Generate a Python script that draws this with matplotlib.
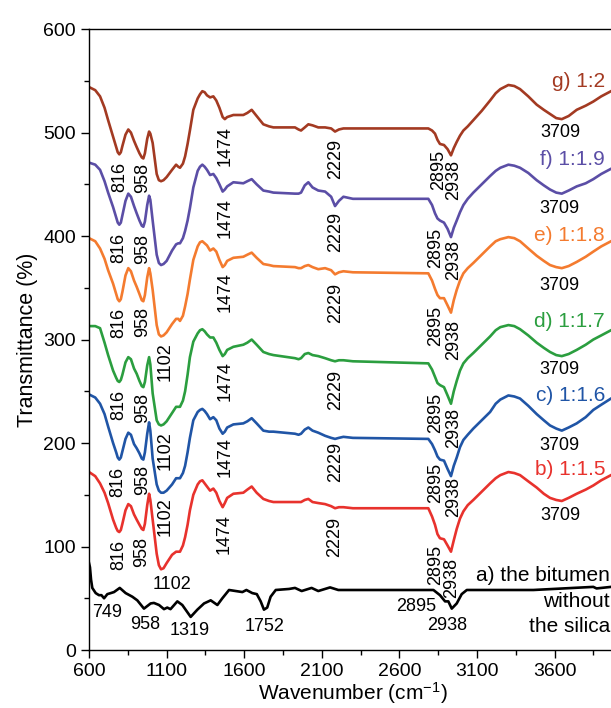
import numpy as np
import matplotlib
matplotlib.use("Agg")
import matplotlib.pyplot as plt

plt.rcParams['font.family'] = ['Liberation Sans', 'DejaVu Sans']
plt.rcParams['mathtext.default'] = 'regular'

# wavenumber grid shared by the silica-modified spectra (b..g)
wn = [600, 640, 671, 700, 723, 755, 775, 785, 795, 805, 815, 835, 853, 870, 890,
      907, 925, 940, 950, 960, 975, 987, 995, 1010, 1036, 1050, 1064, 1080, 1100,
      1135, 1161, 1175, 1186, 1205, 1219, 1235, 1250, 1272, 1300, 1315, 1330,
      1345, 1360, 1380, 1401, 1420, 1440, 1461, 1475, 1490, 1530, 1594, 1620,
      1648, 1680, 1723, 1760, 1788, 1927, 1950, 1966, 1990, 2013, 2040, 2077,
      2121, 2160, 2185, 2210, 2239, 2300, 2786, 2810, 2829, 2845, 2861, 2887,
      2910, 2932, 2950, 2969, 2990, 3012, 3040, 3076, 3130, 3184, 3220, 3250,
      3302, 3340, 3377, 3430, 3484, 3530, 3570, 3610, 3646, 3690, 3742, 3800,
      3849, 3900, 3963, 4000]

g_vals = [544, 541, 535, 524, 512, 496, 486, 481, 479, 481, 487, 498, 503, 500, 492,
          486, 480, 476, 475, 480, 494, 501, 499, 490, 460, 454, 453, 454, 457,
          464, 469, 467, 466, 470, 477, 489, 502, 522, 533, 537, 540,
          539, 536, 534, 535, 531, 524, 515, 513, 515, 517, 517, 519,
          522, 516, 508, 506, 505, 505, 503, 502, 505, 508, 507, 505,
          505, 504, 501, 503, 504, 504, 504, 502, 499, 493, 489, 488,
          484, 478, 485, 491, 497, 502, 506, 512, 521, 531, 538, 542,
          546, 545, 542, 535, 527, 522, 518, 514, 513, 516, 522, 526,
          530, 535, 540, 543]
f_vals = [471, 469, 464, 453, 442, 428, 418, 413, 411, 413, 420, 434, 441, 438, 429,
          422, 415, 410, 409, 414, 430, 439, 435, 415, 382, 374, 372, 373, 376,
          386, 392, 393, 393, 398, 405, 415, 427, 447, 463, 467, 469,
          467, 464, 459, 460, 456, 450, 443, 445, 448, 452, 451, 453,
          455, 450, 444, 443, 442, 441, 441, 442, 449, 452, 447, 444,
          443, 438, 429, 434, 438, 436, 436, 430, 422, 417, 415, 413,
          407, 399, 408, 415, 423, 430, 436, 442, 450, 458, 463, 466,
          469, 468, 466, 461, 454, 449, 445, 442, 441, 444, 448, 451,
          455, 460, 465, 468]
e_vals = [398, 395, 388, 378, 367, 354, 344, 339, 337, 339, 346, 362, 369, 366, 357,
          351, 344, 338, 337, 343, 360, 369, 364, 348, 314, 305, 303, 304, 307,
          315, 320, 320, 318, 323, 332, 344, 358, 377, 390, 394, 395,
          393, 391, 386, 388, 385, 377, 370, 372, 376, 379, 380, 382,
          384, 379, 373, 372, 371, 370, 369, 369, 371, 372, 370, 368,
          369, 367, 363, 365, 366, 365, 364, 357, 349, 343, 340, 340,
          333, 326, 338, 348, 357, 364, 369, 374, 382, 390, 395, 397,
          399, 398, 395, 388, 381, 376, 372, 370, 369, 371, 375, 380,
          385, 390, 395, 398]
d_vals = [313, 313, 311, 297, 285, 270, 263, 260, 259, 261, 266, 278, 283, 281, 272,
          267, 260, 255, 254, 259, 275, 283, 276, 248, 222, 218, 217, 218, 221,
          229, 235, 235, 235, 241, 250, 266, 283, 298, 306, 309, 310,
          308, 305, 302, 302, 297, 290, 284, 286, 290, 293, 295, 297,
          300, 295, 288, 286, 285, 282, 281, 282, 286, 287, 285, 284,
          282, 280, 279, 280, 280, 279, 277, 271, 264, 258, 256, 254,
          246, 238, 250, 260, 270, 277, 282, 287, 295, 303, 309, 312,
          314, 313, 310, 304, 297, 292, 288, 285, 284, 286, 290, 295,
          300, 304, 309, 312]
c_vals = [247, 244, 238, 228, 216, 200, 191, 186, 184, 186, 192, 204, 210, 208, 199,
          195, 190, 185, 184, 191, 209, 220, 212, 185, 160, 154, 152, 152, 154,
          160, 166, 166, 166, 171, 178, 191, 205, 222, 230, 232, 233,
          231, 228, 223, 225, 222, 214, 209, 211, 215, 218, 219, 221,
          224, 219, 212, 211, 211, 209, 208, 209, 213, 215, 212, 210,
          207, 205, 204, 205, 206, 205, 204, 199, 193, 187, 184, 183,
          175, 168, 178, 186, 196, 203, 208, 214, 222, 230, 238, 242,
          246, 245, 243, 236, 228, 222, 217, 214, 212, 215, 219, 225,
          232, 237, 243, 246]
b_vals = [172, 168, 161, 152, 142, 126, 118, 115, 114, 116, 122, 135, 141, 139, 131,
          126, 121, 117, 116, 122, 140, 151, 145, 126, 93, 82, 78, 79, 84,
          92, 95, 95, 95, 101, 109, 121, 135, 150, 160, 163, 164,
          161, 158, 154, 156, 152, 144, 138, 142, 147, 151, 152, 155,
          158, 152, 146, 144, 143, 143, 143, 143, 145, 146, 143, 142,
          141, 139, 137, 138, 138, 137, 137, 129, 121, 112, 108, 107,
          101, 95, 106, 117, 127, 134, 140, 145, 153, 161, 166, 169,
          172, 171, 169, 163, 157, 151, 147, 145, 144, 147, 151, 155,
          159, 164, 169, 172]

# a) plain bitumen
wn_a = [600, 606, 613, 621, 643, 664, 680, 697, 718, 740, 761, 798, 836, 879,
        911, 954, 997, 1018, 1051, 1083, 1104, 1125, 1169, 1201, 1255, 1298,
        1341, 1384, 1427, 1459, 1502, 1545, 1588, 1614, 1652, 1681, 1706, 1727,
        1748, 1770, 1803, 1889, 1927, 1970, 2034, 2077, 2153, 2206, 2250, 2819,
        2861, 2894, 2915, 2937, 2969, 3001, 3034, 3463, 3849, 3870, 3963, 4000]
a_vals = [84, 80, 68, 60, 55, 53, 53, 50, 54, 55, 56, 60, 55, 51.5,
          48, 40, 45, 45.5, 43.5, 39.5, 41, 39.5, 47, 43.5, 32, 39,
          45, 48, 43.5, 50, 58, 57, 56, 58, 55, 54, 47, 39,
          41, 51.5, 58, 59, 60, 57, 60, 57, 60.5, 58, 58, 58,
          53, 47, 47, 40, 45, 54, 58, 58, 61, 59.5, 61, 61]

series = [
    ('g) 1:2', g_vals, '#a33a22'),
    ('f) 1:1.9', f_vals, '#5b4ea6'),
    ('e) 1:1.8', e_vals, '#f47b2f'),
    ('d) 1:1.7', d_vals, '#2b9e3f'),
    ('c) 1:1.6', c_vals, '#2055a6'),
    ('b) 1:1.5', b_vals, '#e8322d'),
]
name_y = [549, 474, 401, 317, 246, 174]

# peak labels: text, x, y, rotation
peaks = {
    'g) 1:2': [('816', 797, 457, 90), ('958', 948, 456, 90), ('1474', 1476, 487, 90),
               ('2229', 2188, 475, 90), ('2895', 2852, 464, 90), ('2938', 2952, 454, 90),
               ('3709', 3635, 500, 0)],
    'f) 1:1.9': [('816', 793, 389, 90), ('958', 948, 388, 90), ('1474', 1476, 417, 90),
                 ('2229', 2188, 404, 90), ('2895', 2836, 389, 90), ('2938', 2952, 377, 90),
                 ('3709', 3628, 427, 0)],
    'e) 1:1.8': [('816', 793, 316, 90), ('958', 948, 317, 90), ('1102', 1090, 279, 90),
                 ('1474', 1476, 346, 90), ('2229', 2191, 335, 90), ('2895', 2836, 313, 90),
                 ('2938', 2952, 300, 90), ('3709', 3628, 352, 0)],
    'd) 1:1.7': [('816', 793, 237, 90), ('958', 948, 234, 90), ('1102', 1090, 193, 90),
                 ('1474', 1476, 260, 90), ('2229', 2191, 251, 90), ('2895', 2836, 229, 90),
                 ('2938', 2952, 215, 90), ('3709', 3628, 271, 0)],
    'c) 1:1.6': [('816', 787, 162, 90), ('958', 948, 164, 90), ('1102', 1090, 129, 90),
                 ('1474', 1476, 186, 90), ('2229', 2191, 182, 90), ('2895', 2836, 161, 90),
                 ('2938', 2952, 148, 90), ('3709', 3628, 198, 0)],
    'b) 1:1.5': [('816', 793, 92, 90), ('958', 941, 95, 90), ('1102', 1135, 63, 0),
                 ('1474', 1470, 112, 90), ('2229', 2185, 109, 90), ('2895', 2836, 82, 90),
                 ('2938', 2939, 70, 90), ('3709', 3635, 130, 0)],
}
peaks_a = [('749', 716, 36), ('958', 961, 25), ('1319', 1251, 19), ('1752', 1734, 23),
           ('2895', 2707, 42), ('2938', 2907, 24)]
name_a = ['a) the bitumen', 'without', 'the silica']
name_a_y = [72, 47, 23]

fig = plt.figure(figsize=(6.11, 7.08), dpi=100)
ax = fig.add_axes([0.1457, 0.0819, 0.8637, 0.877])

for (name, vals, col), ny in zip(series, name_y):
    ax.plot(wn, vals, color=col, lw=1.9, solid_joinstyle='round')
    ax.text(3925, ny, name, color=col, fontsize=15, ha='right', va='center')
    for txt, x, y, rot in peaks[name]:
        ax.text(x, y, txt, fontsize=13, rotation=rot, ha='center', va='center')

ax.plot(wn_a, a_vals, color='black', lw=1.9, solid_joinstyle='round')
for txt, x, y in peaks_a:
    ax.text(x, y, txt, fontsize=13, ha='center', va='center')
for txt, y in zip(name_a, name_a_y):
    ax.text(3957, y, txt, fontsize=15, ha='right', va='center')

ax.set_xlim(600, 4000)
ax.set_ylim(0, 600)
ax.set_xticks(np.arange(600, 4001, 500))
ax.set_xticks(np.arange(850, 4001, 500), minor=True)
ax.set_yticks(np.arange(0, 601, 100))
ax.set_yticks(np.arange(50, 601, 100), minor=True)
ax.tick_params(which='major', length=6, width=1, labelsize=14, direction='out')
ax.tick_params(which='minor', length=3.5, width=1, direction='out')
for s in ax.spines.values():
    s.set_linewidth(1)
ax.spines['right'].set_visible(False)

ax.set_xlabel('Wavenumber (cm$^{-1}$)', fontsize=15, labelpad=0)
ax.set_ylabel('Transmittance (%)', fontsize=15.5, labelpad=4)

fig.savefig('out.png', dpi=100)
